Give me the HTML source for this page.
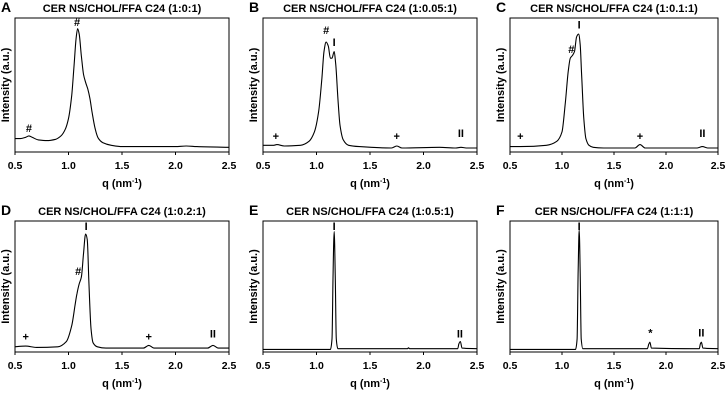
<!DOCTYPE html>
<html><head><meta charset="utf-8"><style>
html,body{margin:0;padding:0;background:#fff;}
svg{display:block;font-family:"Liberation Sans",Arial,sans-serif;}
</style></head><body>
<svg id="fig" width="726" height="400" viewBox="0 0 726 400"></svg>
<script>
const qTicks=[0.5,1.0,1.5,2.0,2.5];
const tickLabels=["0.5","1.0","1.5","2.0","2.5"];
const panelLetters=["A","B","C","D","E","F"];
const panelTitles=["CER NS/CHOL/FFA C24 (1:0:1)","CER NS/CHOL/FFA C24 (1:0.05:1)","CER NS/CHOL/FFA C24 (1:0.1:1)","CER NS/CHOL/FFA C24 (1:0.2:1)","CER NS/CHOL/FFA C24 (1:0.5:1)","CER NS/CHOL/FFA C24 (1:1:1)"];
const qA=[0.5,0.55,0.6,0.63,0.66,0.72,0.8,0.88,0.93,0.97,1.0,1.03,1.05,1.07,1.085,1.1,1.12,1.14,1.16,1.18,1.2,1.22,1.25,1.28,1.32,1.4,1.5,2.0,2.1,2.2,2.5];
const iA=[10,10,11,12,11,9,8.5,9.5,12,17,25,42,62,84,92,88,72,58,52,47,40,30,17,10,7,5,4,4,4.5,4,3.5];
const qB=[0.5,0.6,0.63,0.7,0.85,0.93,0.98,1.02,1.05,1.07,1.09,1.11,1.13,1.145,1.165,1.18,1.2,1.22,1.25,1.3,1.4,1.7,1.75,1.8,2.15,2.3,2.35,2.4,2.5];
const iB=[5,5,5.5,4.5,5,8,15,30,55,75,82,79,70,70,75,65,40,20,9,5,4,3,4.5,3,3.5,3,3.5,3,3];
const qC=[0.5,0.6,0.85,0.95,1.0,1.03,1.06,1.08,1.1,1.12,1.14,1.16,1.175,1.19,1.21,1.23,1.26,1.3,1.4,1.7,1.75,1.8,2.3,2.35,2.4,2.5];
const iC=[4,4,5,8,15,35,60,70,72,75,86,88,80,55,25,10,5,3.5,3,3,5.5,3,3,4,3,3];
const qD=[0.5,0.6,0.7,0.9,0.98,1.03,1.06,1.08,1.1,1.12,1.14,1.16,1.175,1.19,1.21,1.23,1.27,1.35,1.7,1.75,1.8,2.3,2.35,2.4,2.5];
const iD=[4,4.5,3.5,4,8,20,35,45,52,57,75,90,86,55,18,7,4,3,3,5,3,3,5,3,3];
const qE=[0.5,1.13,1.145,1.155,1.165,1.175,1.185,1.2,1.85,1.86,1.87,2.32,2.33,2.345,2.36,2.5];
const iE=[2,2,10,60,92,60,10,2.5,2.5,3.2,2.5,2.5,6,8,3,2.5];
const qF=[0.5,1.13,1.145,1.155,1.165,1.175,1.185,1.2,1.82,1.835,1.845,1.86,2.32,2.33,2.34,2.355,2.5];
const iF=[2,2,10,60,93,60,10,2.5,2.5,6,7.5,3,2.5,6,7.5,3,2.5];
const series=[[qA,iA],[qB,iB],[qC,iC],[qD,iD],[qE,iE],[qF,iF]];
const markQ=[[0.63,1.08],[0.62,1.09,1.165,1.75,2.35],[0.6,1.09,1.165,1.75,2.35],[0.6,1.09,1.165,1.75,2.35],[1.165,2.34],[1.165,1.85,2.34]];
const markY=[[18,97],[12,91,82,12,14],[12,77,95,12,14],[12,62,96,12,14],[96,14],[96,15,15]];
const markT=[["#","#"],["+","#","I","+","II"],["+","#","I","+","II"],["+","#","I","+","II"],["I","II"],["I","*","II"]];

const NS="http://www.w3.org/2000/svg";
const svg=document.getElementById("fig");
function mk(tag,attrs,parent){const e=document.createElementNS(NS,tag);for(const k in attrs)e.setAttribute(k,attrs[k]);(parent||svg).appendChild(e);return e;}
function monotone(pts){
  const n=pts.length,dx=[],s=[],m=new Array(n);
  for(let i=0;i<n-1;i++){dx[i]=pts[i+1][0]-pts[i][0];s[i]=(pts[i+1][1]-pts[i][1])/dx[i];}
  m[0]=s[0];m[n-1]=s[n-2];
  for(let i=1;i<n-1;i++){
    if(s[i-1]*s[i]<=0)m[i]=0;
    else{const w1=2*dx[i]+dx[i-1],w2=dx[i]+2*dx[i-1];m[i]=(w1+w2)/(w1/s[i-1]+w2/s[i]);}
  }
  let d="M"+pts[0][0].toFixed(1)+","+pts[0][1].toFixed(1);
  for(let i=0;i<n-1;i++){
    const h=dx[i]/3;
    d+="C"+(pts[i][0]+h).toFixed(1)+","+(pts[i][1]+m[i]*h).toFixed(1)+" "+(pts[i+1][0]-h).toFixed(1)+","+(pts[i+1][1]-m[i+1]*h).toFixed(1)+" "+pts[i+1][0].toFixed(1)+","+pts[i+1][1].toFixed(1);
  }
  return d;
}
const lefts=[15,263,510];const rights=[229,477,718];
const tops=[18,221];const bottoms=[152,352];
for(let p=0;p<6;p++){
  const col=p%3,row=Math.floor(p/3);
  const x0=lefts[col],x1=rights[col],y0=tops[row],y1=bottoms[row];
  const xs=q=>x0+(q-0.5)/2*(x1-x0);
  const ys=v=>y1-v/100*(y1-y0);
  const g=mk("g",{});
  
  
  const L=mk("text",{x:x0-14,y:y0-6,"font-size":14,"font-weight":"bold"},g);L.textContent=panelLetters[p];
  
  
  const T=mk("text",{x:(x0+x1)/2,y:y0-6,"font-size":11,"font-weight":"bold","text-anchor":"middle"},g);T.textContent=panelTitles[p];
  
  
  const fr=mk("rect",{x:x0,y:y0,width:x1-x0,height:y1-y0,fill:"none",stroke:"#000","stroke-width":1},g);
  
  
  qTicks.forEach((q,i)=>{
    mk("line",{x1:xs(q),x2:xs(q),y1:y1,y2:y1+3,stroke:"#000"},g);
    const t=mk("text",{x:xs(q),y:y1+17,"font-size":10.5,"font-weight":"bold","text-anchor":"middle"},g);t.textContent=tickLabels[i];
    
    
  });
  const xl=mk("text",{x:(x0+x1)/2,y:y1+35,"font-size":11,"font-weight":"bold","text-anchor":"middle"},g);
  xl.innerHTML='q (nm<tspan dy="-4" font-size="7">-1</tspan><tspan dy="4">)</tspan>';
  
  
  const yl=mk("text",{x:0,y:0,"font-size":11,"font-weight":"bold","text-anchor":"middle",transform:`translate(${x0-6},${(y0+y1)/2}) rotate(-90)`},g);
  yl.textContent="Intensity (a.u.)";
  
  
  const [qs,is]=series[p];
  const pts=qs.map((q,i)=>[xs(q),ys(is[i])]);
  const path=mk("path",{d:monotone(pts),fill:"none",stroke:"#000","stroke-width":1.1,"stroke-linejoin":"round"},g);
  
  
  markQ[p].forEach((q,i)=>{
    const m=mk("text",{x:xs(q),y:ys(markY[p][i])+4,"font-size":11,"font-weight":"bold","text-anchor":"middle"},g);
    m.textContent=markT[p][i];
    
    
  });
}
</script>
</body></html>
